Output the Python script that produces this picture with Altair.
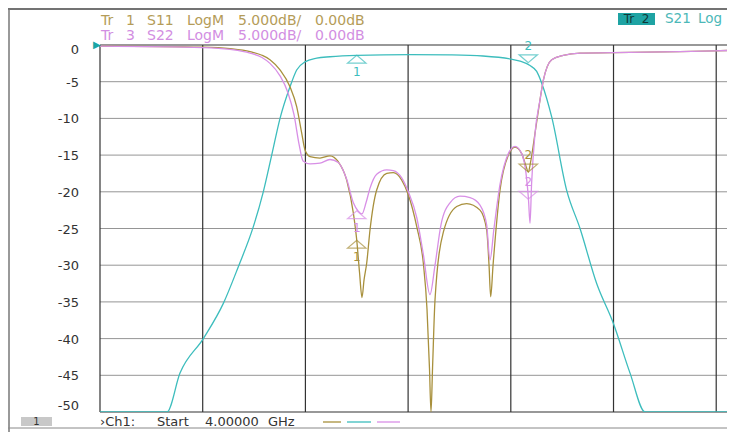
import altair as alt
import pandas as pd

# ---------------- data (x in screen divisions from Start, y in dB) ----------------
s21_x = [0.00, 0.652, 0.779, 1.006, 1.201, 1.347, 1.493, 1.590, 1.672, 1.753, 1.850, 1.915,
         1.996, 2.110, 2.239, 2.500, 3.018, 3.408, 3.729, 3.992, 4.090, 4.187, 4.252, 4.301,
         4.398, 4.544, 4.674, 4.836, 4.998, 5.161, 5.307, 6.105]
s21_y = [-50, -50, -44.7, -40.0, -35.2, -30.2, -24.75, -20.0, -15.0, -10.0, -5.7, -3.4,
         -2.3, -1.8, -1.6, -1.4, -1.3, -1.35, -1.5, -1.9, -2.2, -2.8, -3.6, -5.2,
         -9.8, -19.8, -25.0, -32.5, -37.9, -44.7, -50, -50]

s11_x = [0.00, 1.003, 1.266, 1.461, 1.577, 1.655, 1.753, 1.850, 1.915, 1.964, 1.996, 2.045,
         2.142, 2.239, 2.320, 2.402, 2.467, 2.500, 2.527, 2.551, 2.571, 2.597, 2.629, 2.694,
         2.792, 2.856, 2.938, 3.002, 3.084, 3.148, 3.184, 3.208, 3.223, 3.238, 3.262, 3.343,
         3.473, 3.570, 3.700, 3.765, 3.788, 3.804, 3.827, 3.895, 3.976, 4.041, 4.106, 4.148,
         4.170, 4.192, 4.236, 4.284, 4.317, 4.398, 4.511, 4.674, 4.998, 5.647, 6.105]
s11_y = [-0.15, -0.3, -0.5, -0.9, -1.4, -2.0, -3.4, -5.7, -8.4, -12.0, -14.3, -15.2,
         -15.4, -15.1, -15.9, -18.4, -22.9, -26.6, -31.0, -34.4, -32.0, -29.7, -25.2, -19.75,
         -17.5, -17.4, -18.4, -20.4, -24.75, -29.7, -36.0, -44.0, -50.0, -44.0, -34.7, -25.5,
         -22.0, -21.6, -22.5, -25.2, -30.0, -34.3, -30.0, -19.75, -15.0, -13.9, -14.8, -16.5,
         -17.3, -16.0, -12.0, -7.5, -4.8, -2.0, -1.4, -1.1, -1.05, -0.9, -0.75]

s22_x = [0.00, 1.003, 1.266, 1.461, 1.577, 1.655, 1.753, 1.830, 1.889, 1.938, 1.977, 2.045,
         2.142, 2.239, 2.320, 2.402, 2.467, 2.512, 2.551, 2.590, 2.629, 2.694, 2.792, 2.856,
         2.938, 3.002, 3.084, 3.148, 3.213, 3.262, 3.320, 3.408, 3.505, 3.603, 3.700, 3.765,
         3.797, 3.836, 3.895, 3.976, 4.041, 4.106, 4.148, 4.172, 4.187, 4.202, 4.236, 4.284,
         4.317, 4.398, 4.511, 4.674, 4.998, 5.647, 6.105]
s22_y = [-0.15, -0.35, -0.6, -1.1, -1.7, -2.5, -4.2, -6.5, -9.5, -13.5, -15.8, -16.2,
         -16.1, -15.6, -16.0, -18.3, -21.5, -22.6, -23.0, -21.5, -19.5, -17.6, -17.0, -17.1,
         -18.1, -20.0, -23.5, -28.5, -34.0, -30.0, -24.5, -21.5, -20.6, -20.8, -21.8, -24.5,
         -29.3, -25.0, -19.0, -14.8, -13.8, -14.8, -17.5, -21.0, -24.3, -19.0, -12.0, -7.5,
         -4.8, -2.0, -1.4, -1.1, -1.05, -0.9, -0.75]

# markers: trace, marker number, x (div), y (dB)
mk_trace = ["S21", "S21", "S11", "S11", "S22", "S22"]
mk_num = ["1", "2", "1", "2", "1", "2"]
mk_x = [2.50, 4.17, 2.50, 4.17, 2.50, 4.17]
mk_y = [-1.4, -2.4, -26.6, -17.3, -22.6, -21.0]

y_ticks = [0, -5, -10, -15, -20, -25, -30, -35, -40, -45, -50]
x_divs = [0, 1, 2, 3, 4, 5, 6]

# header / footer texts (split in words, as the instrument lays them out)
hdr1_words = ["Tr", "1", "S11", "LogM", "5.000dB/", "0.00dB"]
hdr3_words = ["Tr", "3", "S22", "LogM", "5.000dB/", "0.00dB"]
hdr_tr2 = "Tr\u00a0\u00a02"
s21_words = ["S21", "Log"]
footer_words = ["\u203aCh1:", "Start", "4.00000", "GHz"]
ch_box = "1"

# word start positions (px, relative to plot left)
HDR_POS = [1, 26, 47, 87, 138, 215]
S21_POS = [565, 598]
FOOT_POS = [0, 57, 105, 168]

C_S11 = "#a8903c"
C_S21 = "#3dbdbd"
C_S22 = "#d88fe6"
FONT = "DejaVu Sans"

X_MAX = 6.105
W, H = 627, 367

xs = alt.Scale(domain=[0, X_MAX], nice=False, zero=False)
ys = alt.Scale(domain=[-50, 0], nice=False, zero=False)

def trace_df(x, y):
    return pd.DataFrame({"x": x, "y": y})

one = pd.DataFrame({"a": [0]})

# grid
hgrid_df = pd.DataFrame({"v": [t for t in y_ticks if t not in (0, -50)]})
hborder_df = pd.DataFrame({"v": [0, -50]})
vgrid_df = pd.DataFrame({"v": x_divs})

hgrid = alt.Chart(hgrid_df).mark_rule(color="#959595", strokeWidth=1).encode(
    y=alt.Y("v:Q", scale=ys, axis=None))
hborder = alt.Chart(hborder_df).mark_rule(color="#333333", strokeWidth=1.2).encode(
    y=alt.Y("v:Q", scale=ys, axis=None))
vgrid = alt.Chart(vgrid_df).mark_rule(color="#333333", strokeWidth=1.2).encode(
    x=alt.X("v:Q", scale=xs, axis=None))

# y tick labels as text
lab_df = pd.DataFrame({"v": y_ticks, "t": [str(t) for t in y_ticks]})
def ylabels(df, dy):
    return alt.Chart(df).mark_text(align="right", baseline="middle", fontSize=13, font=FONT,
                                   color="#333333", dy=dy).encode(
        x=alt.value(-21), y=alt.Y("v:Q", scale=ys, axis=None), text="t:N")
ylab_mid = ylabels(lab_df[(lab_df.v != 0) & (lab_df.v != -50)], 1)
ylab_top = ylabels(lab_df[lab_df.v == 0], 5)
ylab_bot = ylabels(lab_df[lab_df.v == -50], -6)

def line(df, color):
    return alt.Chart(df).mark_line(color=color, strokeWidth=1.3, clip=True, interpolate="monotone").encode(
        x=alt.X("x:Q", scale=xs, axis=None), y=alt.Y("y:Q", scale=ys, axis=None))

l21 = line(trace_df(s21_x, s21_y), C_S21)
l11 = line(trace_df(s11_x, s11_y), C_S11)
l22 = line(trace_df(s22_x, s22_y), C_S22)

mk = pd.DataFrame({"trace": mk_trace, "num": mk_num, "x": mk_x, "y": mk_y})
col_map = {"S21": C_S21, "S11": C_S11, "S22": C_S22}

UP = "M0,0L1,0.85L-1,0.85Z"
DOWN = "M0,0L1,-0.85L-1,-0.85Z"

marker_layers = []
for tr in ["S21", "S11", "S22"]:
    for num in ["1", "2"]:
        d = mk[(mk.trace == tr) & (mk.num == num)]
        up = (num == "1")
        col = col_map[tr]
        marker_layers.append(
            alt.Chart(d).mark_point(shape=UP if up else DOWN, size=340, filled=False,
                                    color=col, strokeWidth=1.2).encode(
                x=alt.X("x:Q", scale=xs, axis=None), y=alt.Y("y:Q", scale=ys, axis=None)))
        marker_layers.append(
            alt.Chart(d).mark_text(color=col, fontSize=12, font=FONT,
                                   dy=(17 if up else -17)).encode(
                x=alt.X("x:Q", scale=xs, axis=None), y=alt.Y("y:Q", scale=ys, axis=None),
                text="num:N"))

# reference level arrow
ref_arrow = alt.Chart(pd.DataFrame({"x": [0], "y": [0]})).mark_text(
    text="\u25b6", color="#1aa6a6", fontSize=10, align="right", dx=1, dy=0).encode(
    x=alt.X("x:Q", scale=xs, axis=None), y=alt.Y("y:Q", scale=ys, axis=None))

def words(ws, pos, y, color, size):
    df = pd.DataFrame({"w": ws, "p": pos})
    return alt.Chart(df).mark_text(color=color, fontSize=size, font=FONT,
                                   align="left", baseline="middle").encode(
        x=alt.X("p:Q", scale=None, axis=None), y=alt.value(y), text="w:N")

def txt(s, x, y, color, size=13, align="left"):
    return alt.Chart(one).mark_text(text=s, color=color, fontSize=size, font=FONT,
                                    align=align, baseline="middle").encode(
        x=alt.value(x), y=alt.value(y))

hdr1 = words(hdr1_words, HDR_POS, -24.5, "#b49c58", 14)
hdr3 = words(hdr3_words, HDR_POS, -9, "#d28ee2", 14)
tr2_box = alt.Chart(one).mark_rect(color="#1ea3a3").encode(
    x=alt.value(518), x2=alt.value(555), y=alt.value(-32), y2=alt.value(-20))
tr2_txt = txt(hdr_tr2, 536.5, -26, "#103838", 12, "center")
s21_txt = words(s21_words, S21_POS, -26, "#4cb8b8", 13.5)

# frame lines
top_frame = alt.Chart(one).mark_rule(color="#444444", strokeWidth=1.5).encode(
    x=alt.value(-92), x2=alt.value(W), y=alt.value(-36))
left_frame = alt.Chart(one).mark_rule(color="#777777", strokeWidth=1.5).encode(
    x=alt.value(-91), y=alt.value(-36), y2=alt.value(H + 20))
bottom_frame = alt.Chart(one).mark_rule(color="#888888", strokeWidth=1).encode(
    x=alt.value(-92), x2=alt.value(W), y=alt.value(H + 16))

# footer
ch_rect = alt.Chart(one).mark_rect(color="#c8c8c8").encode(
    x=alt.value(-79), x2=alt.value(-48), y=alt.value(372), y2=alt.value(381))
ch_txt = txt(ch_box, -63.5, 376.5, "#333333", 10, "center")
foot_txt = words(footer_words, FOOT_POS, 377, "#333333", 13)
leg1 = alt.Chart(one).mark_rule(color=C_S11, strokeWidth=1.3).encode(
    x=alt.value(223), x2=alt.value(241), y=alt.value(377))
leg2 = alt.Chart(one).mark_rule(color=C_S21, strokeWidth=1.3).encode(
    x=alt.value(247), x2=alt.value(271), y=alt.value(377))
leg3 = alt.Chart(one).mark_rule(color=C_S22, strokeWidth=1.3).encode(
    x=alt.value(277), x2=alt.value(300), y=alt.value(377))

chart = alt.layer(
    hgrid, hborder, vgrid, ylab_mid, ylab_top, ylab_bot, l21, l11, l22, *marker_layers, ref_arrow,
    hdr1, hdr3, tr2_box, tr2_txt, s21_txt, top_frame, left_frame, bottom_frame,
    ch_rect, ch_txt, foot_txt, leg1, leg2, leg3,
).properties(
    width=W, height=H,
    autosize=alt.AutoSizeParams(type="none"),
    padding={"left": 92, "top": 37, "right": 0, "bottom": 20},
    background="white",
).resolve_scale(x="independent").configure_view(stroke=None)

chart.save("out.html", embed_options={"renderer": "svg", "actions": False})
